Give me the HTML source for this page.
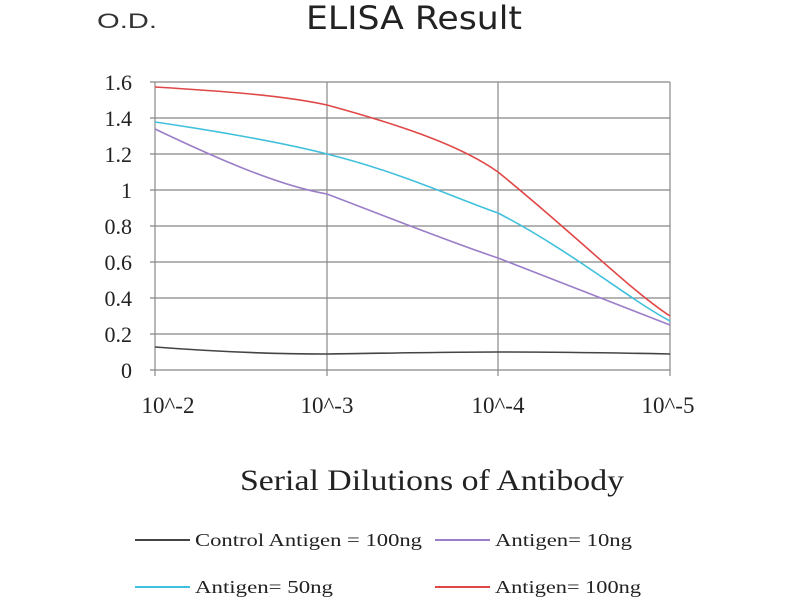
<!DOCTYPE html>
<html><head><style>body{margin:0;background:#fff}</style></head><body>
<svg width="800" height="600" xmlns="http://www.w3.org/2000/svg">
<rect width="800" height="600" fill="#fff"/>
<text x="97" y="28" textLength="60" lengthAdjust="spacingAndGlyphs" font-family="Liberation Sans,sans-serif" font-size="21" fill="#333">O.D.</text>
<text x="306" y="29" textLength="216" lengthAdjust="spacingAndGlyphs" font-family="DejaVu Sans,sans-serif" font-size="32" fill="#222">ELISA Result</text>
<g stroke="#888" stroke-width="1.2">
<line x1="150" y1="82" x2="670" y2="82"/><line x1="150" y1="118" x2="670" y2="118"/>
<line x1="150" y1="154" x2="670" y2="154"/><line x1="150" y1="190" x2="670" y2="190"/>
<line x1="150" y1="226" x2="670" y2="226"/><line x1="150" y1="262" x2="670" y2="262"/>
<line x1="150" y1="298" x2="670" y2="298"/><line x1="150" y1="334" x2="670" y2="334"/>
<line x1="150" y1="370" x2="670" y2="370"/>
<line x1="155" y1="82" x2="155" y2="376"/><line x1="327" y1="82" x2="327" y2="376"/>
<line x1="498" y1="82" x2="498" y2="376"/><line x1="670" y1="82" x2="670" y2="376"/>
</g>
<g font-family="Liberation Serif,serif" font-size="22" fill="#222" text-anchor="end">
<text x="132" y="90">1.6</text><text x="132" y="126">1.4</text><text x="132" y="162">1.2</text>
<text x="132" y="198">1</text><text x="132" y="234">0.8</text><text x="132" y="270">0.6</text>
<text x="132" y="306">0.4</text><text x="132" y="342">0.2</text><text x="132" y="378">0</text>
</g>
<g font-family="Liberation Serif,serif" font-size="23" fill="#222" text-anchor="middle">
<text x="168" y="413">10^-2</text><text x="327" y="413">10^-3</text><text x="498" y="413">10^-4</text><text x="668" y="413">10^-5</text>
</g>
<g fill="none" stroke-width="1.6">
<path d="M155,347 C220,352 280,354 327,354 C400,353 450,352 498,352 C560,352 620,353 670,354" stroke="#444"/>
<path d="M155,129 C220,160 280,186 327,194 C390,218 450,242 498,258 C560,282 620,305 670,325" stroke="#9a7fc8"/>
<path d="M155,122 C210,130 280,142 327,154 C400,172 460,200 498,213 C570,250 630,300 670,321" stroke="#40c0dc"/>
<path d="M155,87 C220,91 280,95 327,105 C400,125 460,145 498,172 C570,230 630,290 670,316" stroke="#e04848"/>
</g>
<text x="240" y="490" textLength="384" lengthAdjust="spacingAndGlyphs" font-family="Liberation Serif,serif" font-size="30" fill="#222">Serial Dilutions of Antibody</text>
<g font-family="Liberation Serif,serif" font-size="18" fill="#222">
<line x1="135" y1="540" x2="190" y2="540" stroke="#444" stroke-width="2"/><text x="195" y="546" textLength="227" lengthAdjust="spacingAndGlyphs">Control Antigen = 100ng</text>
<line x1="435" y1="540" x2="490" y2="540" stroke="#9a7fc8" stroke-width="2"/><text x="495" y="546" textLength="137" lengthAdjust="spacingAndGlyphs">Antigen= 10ng</text>
<line x1="135" y1="587" x2="190" y2="587" stroke="#40c0dc" stroke-width="2"/><text x="195" y="593" textLength="138" lengthAdjust="spacingAndGlyphs">Antigen= 50ng</text>
<line x1="435" y1="587" x2="490" y2="587" stroke="#e04848" stroke-width="2"/><text x="495" y="593" textLength="146" lengthAdjust="spacingAndGlyphs">Antigen= 100ng</text>
</g>
</svg>
</body></html>
